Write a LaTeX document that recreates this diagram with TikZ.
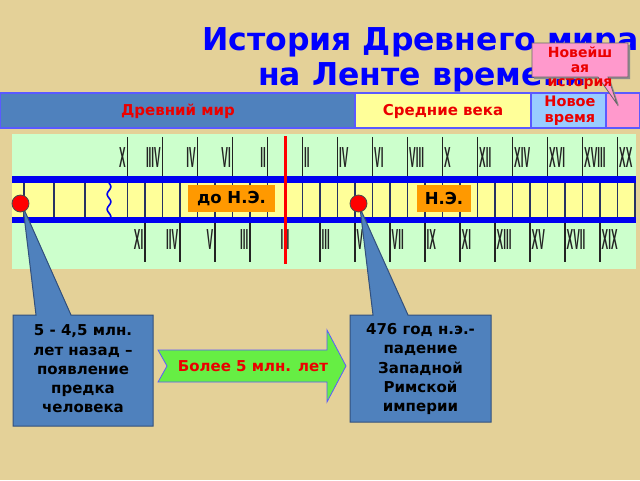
\documentclass[tikz,border=0pt]{standalone}
\usepackage{fontspec}
\setmainfont{DejaVu Sans}
\newfontfamily\romfont{Liberation Sans}
\usepackage{graphicx}
\definecolor{bg}{RGB}{228,209,152}
\definecolor{steel}{RGB}{79,129,189}
\definecolor{steeldark}{RGB}{50,80,125}
\definecolor{paleyel}{RGB}{255,255,153}
\definecolor{paleblue}{RGB}{153,204,255}
\definecolor{pinkc}{RGB}{255,153,204}
\definecolor{palegreen}{RGB}{204,255,204}
\definecolor{bandblue}{RGB}{0,0,240}
\definecolor{bandline}{RGB}{90,90,255}
\definecolor{titleblue}{RGB}{0,0,255}
\definecolor{tickc}{RGB}{35,35,35}
\definecolor{dividerc}{RGB}{40,50,100}
\definecolor{orangec}{RGB}{255,153,0}
\definecolor{arrowgreen}{RGB}{102,238,68}
\definecolor{textred}{RGB}{235,0,0}
\newcommand\romlab[1]{\scalebox{0.34}[1]{\romfont\bfseries\fontsize{29}{29}\selectfont #1}}
\begin{document}
\begin{tikzpicture}[x=1pt,y=-1pt,
  tickline/.style={draw=tickc,line width=1.4pt},
  divline/.style={draw=dividerc,line width=1.4pt},
  romstyle/.style={inner sep=0pt,text=tickc},
  bandseg/.style={draw=bandline,line width=1.2pt},
  bandtext/.style={text=textred,font=\bfseries\fontsize{15}{15}\selectfont,inner sep=0pt},
  boxshape/.style={fill=steel,draw=steeldark,line width=1pt},
  boxtext/.style={font=\bfseries\fontsize{15}{19.2}\selectfont,align=center,inner sep=0pt,text=black},
  eralabel/.style={fill=orangec,inner sep=0pt,minimum height=27pt,font=\bfseries\fontsize{16.5}{16.5}\selectfont},
  redpin/.style={circle,fill=red,draw=black!70,line width=0.8pt,minimum size=17pt,inner sep=0pt}]
\useasboundingbox (0,0) rectangle (640,480);
\fill[bg] (0,0) rectangle (640,480);

% title
\node[anchor=base west,inner sep=0pt,text=titleblue,font=\bfseries\fontsize{31.5}{31.5}\selectfont] (title1) at (202,50) {История Древнего мира};
\node[anchor=base west,inner sep=0pt,text=titleblue,font=\bfseries\fontsize{31.5}{31.5}\selectfont] (title2) at (258,85) {на Ленте времени};

% era band
\filldraw[bandseg,fill=steel] (0,93) rectangle (355,128);
\filldraw[bandseg,fill=paleyel] (355,93) rectangle (531,128);
\filldraw[bandseg,fill=paleblue] (531,93) rectangle (606,128);
\filldraw[bandseg,fill=pinkc] (606,93) rectangle (640,128);
\node[bandtext] (ancient) at (178,111) {Древний мир};
\node[bandtext] (middle) at (443,111) {Средние века};
\node[bandtext,align=center,font=\bfseries\fontsize{14.5}{16}\selectfont] (modern) at (570,110.5) {Новое\\ время};

% callout Новейшая история
\fill[black!45] (534,45) -- (630,45) -- (630,79) -- (610,79) -- (619,106) -- (600,79) -- (534,79) -- cycle;
\filldraw[fill=pinkc,draw=black!60,line width=0.8pt] (532,43) -- (628,43) -- (628,77) -- (608,77) -- (617,104) -- (598,77) -- (532,77) -- cycle;
\node[text=textred,align=center,inner sep=0pt,font=\bfseries\fontsize{14}{14.5}\selectfont] (newest) at (580,68.5) {Новейш\\ ая\\ история};

% timeline panel
\fill[palegreen] (12,134) rectangle (636,269);
\fill[paleyel] (12,183) rectangle (636,217);
\foreach \xx in {24,54,85} \draw[divline] (\xx,183) -- (\xx,217);
\foreach \k in {1,...,9} \draw[divline] ({285-17.5*\k},183) -- ({285-17.5*\k},217);
\foreach \k in {1,...,20} \draw[divline] ({285+17.5*\k},183) -- ({285+17.5*\k},217);
\draw[bandblue,line width=1.6pt] plot[domain=183:217,samples=50,smooth] ({109+1.8*sin((\x-183)*360/15)},\x);
\fill[bandblue] (12,176) rectangle (636,183);
\fill[bandblue] (12,217) rectangle (636,223);

% BC ticks (mirrored labels)
\foreach \n/\lab in {2/II,4/VI,6/IV,8/IIIV,10/X} {
  \draw[tickline] ({285-17.5*(\n-1)},137) -- ({285-17.5*(\n-1)},176);
  \node[romstyle,anchor=east] (bct\n) at ({285-17.5*(\n-1)-1.5},158) {\romlab{\lab}};
}
\foreach \n/\lab in {1/I,3/III,5/V,7/IIV,9/XI} {
  \draw[tickline] ({285-17.5*(\n-1)},223) -- ({285-17.5*(\n-1)},262);
  \node[romstyle,anchor=east] (bcb\n) at ({285-17.5*(\n-1)-1.5},240) {\romlab{\lab}};
}
% AD ticks
\foreach \n/\lab in {2/II,4/IV,6/VI,8/VIII,10/X,12/XII,14/XIV,16/XVI,18/XVIII,20/XX} {
  \draw[tickline] ({285+17.5*(\n-1)},137) -- ({285+17.5*(\n-1)},176);
  \node[romstyle,anchor=west] (adt\n) at ({285+17.5*(\n-1)+1.5},158) {\romlab{\lab}};
}
\foreach \n/\lab in {1/I,3/III,5/V,7/VII,9/IX,11/XI,13/XIII,15/XV,17/XVII,19/XIX} {
  \draw[tickline] ({285+17.5*(\n-1)},223) -- ({285+17.5*(\n-1)},262);
  \node[romstyle,anchor=west] (adb\n) at ({285+17.5*(\n-1)+1.5},240) {\romlab{\lab}};
}
\draw[red,line width=3pt] (285,136) -- (285,264);

\node[eralabel,minimum width=87pt] (bc) at (231.5,198.5) {до Н.Э.};
\node[eralabel,minimum width=54pt] (ad) at (444,198.5) {Н.Э.};

% callout boxes
\filldraw[boxshape] (13,315) -- (36,315) -- (23,207) -- (71,315) -- (153,315) -- (153,426) -- (13,426) -- cycle;
\filldraw[boxshape] (350,315) -- (373,315) -- (360,208) -- (408,315) -- (491,315) -- (491,422) -- (350,422) -- cycle;
\node[redpin] (pin1) at (20.5,203.5) {};
\node[redpin] (pin2) at (358.5,203.5) {};
\node[boxtext] (lefttext) at (83,369) {5 - 4,5 млн.\\ лет назад –\\ появление\\ предка\\ человека};
\node[boxtext] (righttext) at (420.5,369) {476 год н.э.-\\ падение\\ Западной\\ Римской\\ империи};

% arrow
\filldraw[fill=arrowgreen,draw=bandline,line width=0.8pt] (158,350) -- (327,350) -- (327,330) -- (346,366) -- (327,402) -- (327,382) -- (158,382) -- (167,366) -- cycle;
\node[text=textred,inner sep=0pt,font=\bfseries\fontsize{15}{15}\selectfont] (span) at (253,366) {Более 5 млн. лет};
\end{tikzpicture}
\end{document}
